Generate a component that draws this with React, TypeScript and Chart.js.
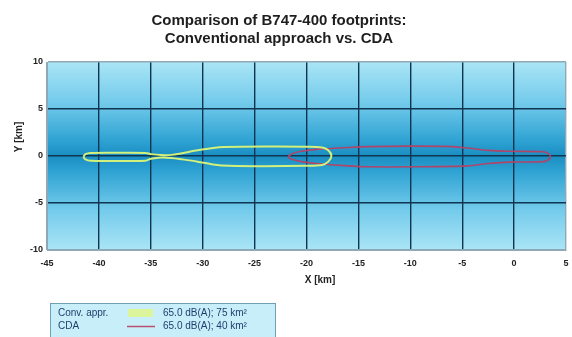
import React, { useEffect, useRef } from "react";
import { Chart, registerables } from "chart.js";

Chart.register(...registerables);

const titleLines = ["Comparison of B747-400 footprints:", "Conventional approach vs. CDA"];
const xTicks = [-45, -40, -35, -30, -25, -20, -15, -10, -5, 0, 5];
const yTicks = [-10, -5, 0, 5, 10];

// Conventional approach 65 dB(A) contour (km)
const convX = [-41.5, -41.3, -40.8, -38, -35.5, -35, -34, -33, -32, -30.5, -29, -28, -24, -20, -18.5, -17.9, -17.6, -17.9, -18.5, -20, -24, -27.5, -29, -30.5, -32, -33, -34, -35, -35.5, -38, -40.8, -41.3, -41.5];
const convY = [-0.1, 0.2, 0.33, 0.35, 0.33, 0.2, 0.1, 0.12, 0.3, 0.6, 0.85, 0.95, 1.0, 0.98, 0.9, 0.6, 0.0, -0.6, -0.95, -1.05, -1.1, -1.05, -0.9, -0.6, -0.35, -0.2, -0.15, -0.3, -0.5, -0.52, -0.5, -0.35, -0.1];

// CDA 65 dB(A) contour (km)
const cdaX = [-21.8, -21.4, -20.5, -19, -16, -14, -10, -6, -4.5, -2.5, -0.5, 2.8, 3.3, 3.5, 3.3, 2.8, -0.5, -2.5, -4.5, -10, -14, -16, -19, -20.5, -21.4, -21.8];
const cdaY = [-0.1, 0.25, 0.5, 0.7, 0.9, 1.0, 1.05, 1.0, 0.85, 0.6, 0.5, 0.45, 0.25, -0.05, -0.4, -0.6, -0.65, -0.8, -1.05, -1.15, -1.15, -1.05, -0.8, -0.6, -0.35, -0.1];

const legendLabels = ["Conv. appr.", "CDA"];
const legendValues = ["65.0 dB(A); 75 km\u00b2", "65.0 dB(A); 40 km\u00b2"];

const FONT = "'Liberation Sans', Arial, sans-serif";

export default function App() {
  const ref = useRef<HTMLCanvasElement>(null);

  useEffect(() => {
    const canvas = ref.current!;
    const toPts = (xs: number[], ys: number[]) => xs.map((x, i) => ({ x, y: ys[i] }));

    const decor = {
      id: "decor",
      beforeDraw(chart: any) {
        const { ctx, chartArea: a } = chart;
        ctx.save();
        ctx.fillStyle = "#ffffff";
        ctx.fillRect(0, 0, chart.width, chart.height);
        const g = ctx.createLinearGradient(0, a.top, 0, a.bottom);
        g.addColorStop(0, "#aae5f6");
        g.addColorStop(0.22, "#72caeb");
        g.addColorStop(0.42, "#2ea2d2");
        g.addColorStop(0.5, "#1a8ec2");
        g.addColorStop(0.58, "#2ea2d2");
        g.addColorStop(0.78, "#72caeb");
        g.addColorStop(1, "#aae5f6");
        ctx.fillStyle = g;
        ctx.fillRect(a.left, a.top, a.right - a.left, a.bottom - a.top);
        ctx.restore();
      },
      afterDraw(chart: any) {
        const { ctx } = chart;
        ctx.save();
        ctx.fillStyle = "#1e1e1e";
        ctx.textAlign = "center";
        ctx.textBaseline = "middle";
        ctx.font = `bold 15px ${FONT}`;
        ctx.fillText(titleLines[0], 279, 21);
        ctx.fillText(titleLines[1], 279, 39);
        // axis titles
        ctx.font = `bold 10px ${FONT}`;
        ctx.fillStyle = "#222";
        ctx.fillText("X [km]", 320, 280);
        ctx.save();
        ctx.translate(19, 137);
        ctx.rotate(-Math.PI / 2);
        ctx.fillText("Y [km]", 0, 0);
        ctx.restore();
        // legend box
        ctx.fillStyle = "#c8eef9";
        ctx.fillRect(50, 303, 225, 50);
        ctx.strokeStyle = "#6e9fb5";
        ctx.lineWidth = 1;
        ctx.strokeRect(50.5, 303.5, 225, 50);
        ctx.textAlign = "left";
        ctx.font = `10px ${FONT}`;
        ctx.fillStyle = "#1d3f6e";
        const rows = [313, 326];
        legendLabels.forEach((l, i) => {
          ctx.fillText(l, 58, rows[i]);
          ctx.fillText(legendValues[i], 163, rows[i]);
        });
        ctx.fillStyle = "#dcf59c";
        ctx.fillRect(128, 309, 25, 8);
        ctx.strokeStyle = "#b8506e";
        ctx.lineWidth = 1.5;
        ctx.beginPath();
        ctx.moveTo(127, 326.5);
        ctx.lineTo(155, 326.5);
        ctx.stroke();
        ctx.restore();
      },
    };

    const edge = (min: number, max: number) => (c: any) =>
      c.tick && (c.tick.value === min || c.tick.value === max) ? "#8fa9b4" : "#0f3550";

    const chart = new Chart(canvas, {
      type: "scatter",
      data: {
        datasets: [
          {
            label: legendLabels[0],
            data: toPts(convX, convY),
            showLine: true,
            borderColor: "#d2f07c",
            borderWidth: 2,
            pointRadius: 0,
            tension: 0.3,
            fill: false,
          },
          {
            label: legendLabels[1],
            data: toPts(cdaX, cdaY),
            showLine: true,
            borderColor: "#b0456a",
            borderWidth: 1.6,
            pointRadius: 0,
            tension: 0.3,
            fill: false,
          },
        ],
      },
      options: {
        animation: false,
        responsive: false,
        maintainAspectRatio: false,
        layout: { padding: { top: 62, right: 0, left: 0, bottom: 0 } },
        plugins: { legend: { display: false }, title: { display: false }, tooltip: { enabled: false } },
        scales: {
          x: {
            type: "linear",
            min: -45,
            max: 5,
            afterBuildTicks: (s: any) => {
              s.ticks = xTicks.map((v) => ({ value: v }));
            },
            afterFit: (s: any) => {
              s.height = 87;
              s.paddingRight = 6;
            },
            grid: { color: edge(-45, 5), lineWidth: 1.4, drawTicks: false },
            border: { display: true, color: "#8fa9b4", width: 1 },
            ticks: {
              padding: 8,
              color: "#222",
              font: { family: FONT, size: 9, weight: "bold" },
              maxRotation: 0,
              autoSkip: false,
            },
          },
          y: {
            type: "linear",
            min: -10,
            max: 10,
            afterBuildTicks: (s: any) => {
              s.ticks = yTicks.map((v) => ({ value: v }));
            },
            afterFit: (s: any) => {
              s.width = 47;
            },
            grid: { color: edge(-10, 10), lineWidth: 1.4, drawTicks: false },
            border: { display: true, color: "#8fa9b4", width: 1 },
            ticks: {
              padding: 4,
              color: "#222",
              font: { family: FONT, size: 9, weight: "bold" },
              autoSkip: false,
            },
          },
        },
      },
      plugins: [decor],
    } as any);

    return () => chart.destroy();
  }, []);

  return (
    <div style={{ position: "fixed", left: 0, top: 0, width: 572, height: 337 }}>
      <canvas ref={ref} width={572} height={337} style={{ width: 572, height: 337, display: "block" }} />
    </div>
  );
}
